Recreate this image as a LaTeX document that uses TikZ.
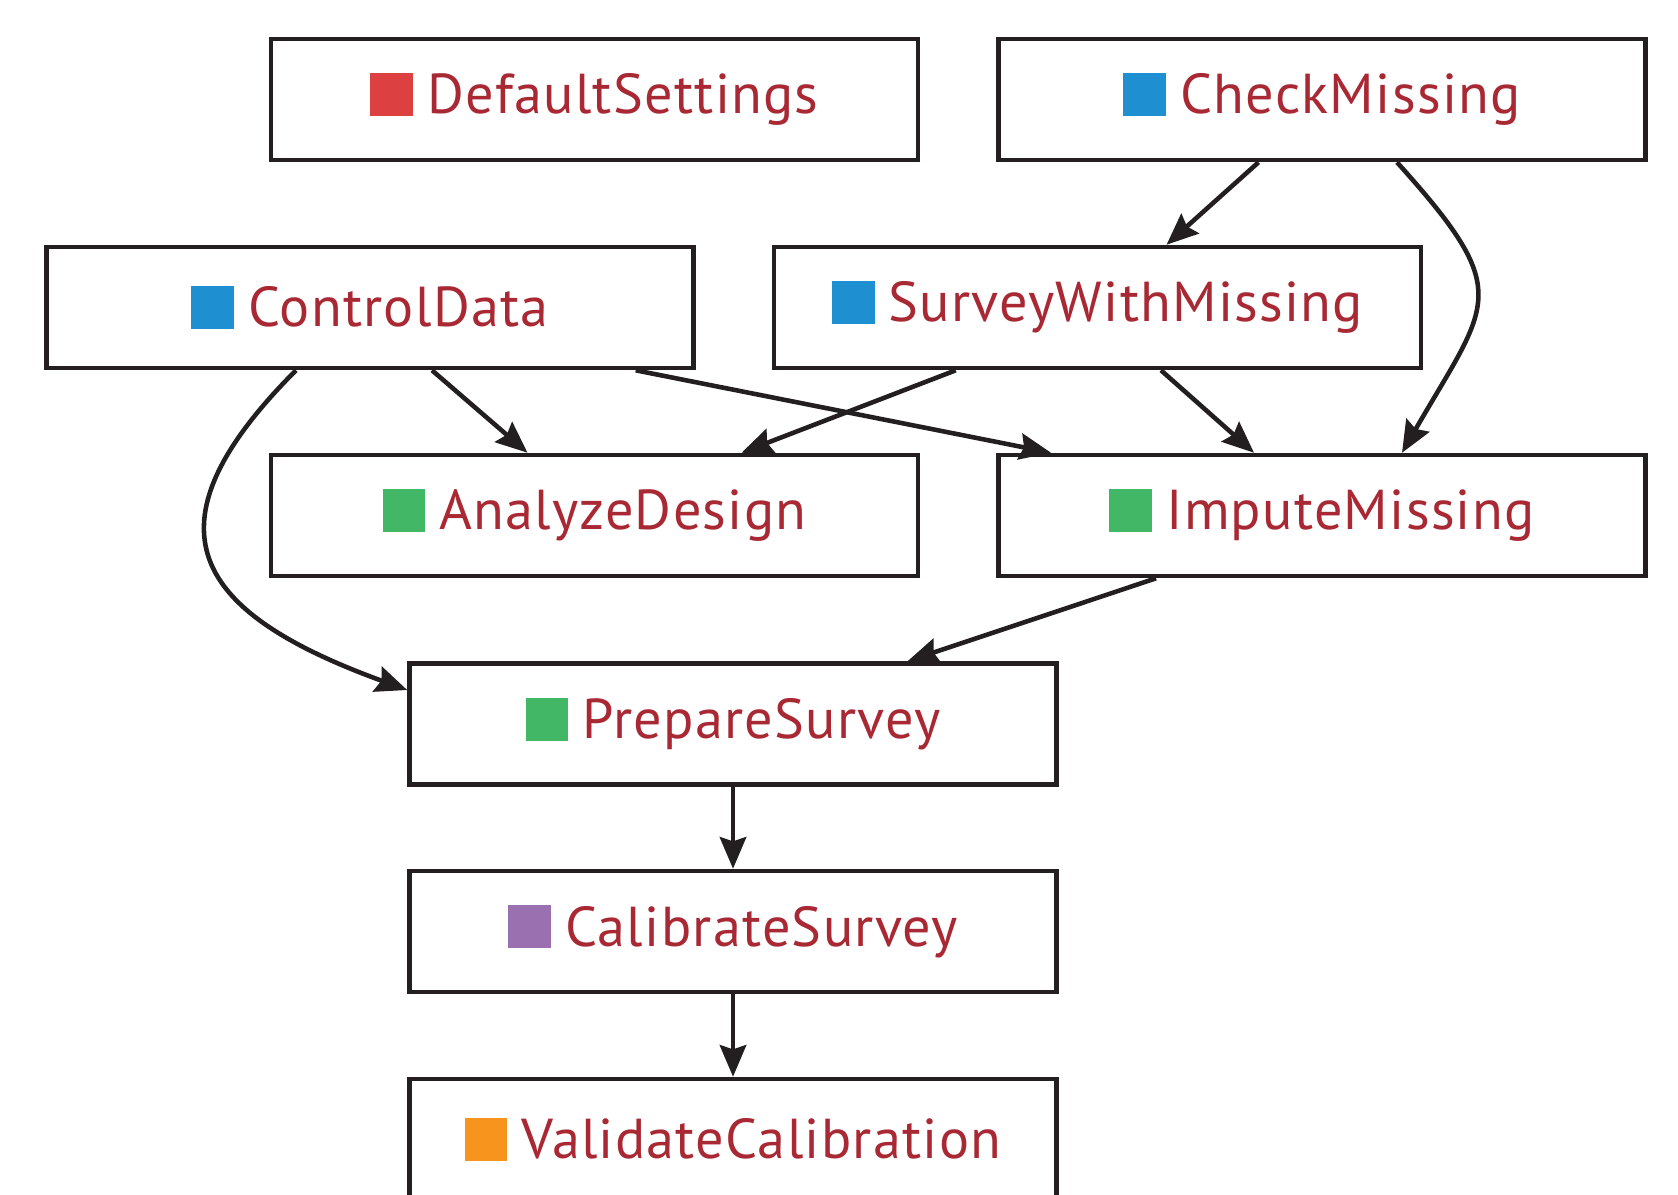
\documentclass[tikz,border=0pt]{standalone}
\usepackage{fontspec}
\setmainfont{PT Sans}[LetterSpace=2.3]
\usetikzlibrary{calc}
\usetikzlibrary{arrows.meta}

\definecolor{inkline}{RGB}{35,31,32}
\definecolor{labelred}{RGB}{168,41,51}
\definecolor{sqred}{RGB}{220,64,64}
\definecolor{sqblue}{RGB}{30,144,210}
\definecolor{sqgreen}{RGB}{66,184,102}
\definecolor{sqpurple}{RGB}{155,112,176}
\definecolor{sqorange}{RGB}{247,148,29}

\newcommand{\tasksq}[1]{{\color{#1}\rule[-0.6pt]{12.2pt}{12.2pt}}\hspace{4pt}}

\tikzset{
	task/.style={draw=inkline, line width=1.3pt, minimum width=6.47cm, minimum height=1.21cm, inner sep=0pt, text=labelred, font=\fontsize{16}{19}\selectfont},
	flow/.style={draw=inkline, line width=1.3pt, -{Stealth[length=9pt,width=7.5pt,inset=1.2pt]}},
}

\begin{document}
\begin{tikzpicture}
		\useasboundingbox (0,0) rectangle (16.78,-11.94);

		\node[task] (defaults) at (5.945,-0.995) {\tasksq{sqred}DefaultSettings};
		\node[task] (checkmiss) at (13.22,-0.995) {\tasksq{sqblue}CheckMissing};
		\node[task] (control) at (3.70,-3.075) {\tasksq{sqblue}ControlData};
		\node[task] (survmiss) at (10.975,-3.075) {\tasksq{sqblue}SurveyWithMissing};
		\node[task] (analyze) at (5.945,-5.155) {\tasksq{sqgreen}AnalyzeDesign};
		\node[task] (impute) at (13.22,-5.155) {\tasksq{sqgreen}ImputeMissing};
		\node[task] (prepare) at (7.33,-7.24) {\tasksq{sqgreen}PrepareSurvey};
		\node[task] (calib) at (7.33,-9.315) {\tasksq{sqpurple}CalibrateSurvey};
		\node[task] (validate) at (7.33,-11.395) {\tasksq{sqorange}ValidateCalibration};

		\draw[flow] ([xshift=-0.635cm]checkmiss.south) -- ([xshift=0.69cm]survmiss.north);
		\draw[flow] ([xshift=0.75cm]checkmiss.south) to[out=-48,in=60,looseness=1.55] ([xshift=0.80cm]impute.north);
		\draw[flow] ([xshift=0.62cm]control.south) -- ([xshift=-0.67cm]analyze.north);
		\draw[flow] ([xshift=2.657cm]control.south) -- ([xshift=-2.71cm]impute.north);
		\draw[flow] ([xshift=-0.74cm]control.south) to[out=-135,in=160,looseness=1.7] ([yshift=0.34cm]prepare.west);
		\draw[flow] ([xshift=-1.418cm]survmiss.south) -- ([xshift=1.47cm]analyze.north);
		\draw[flow] ([xshift=0.635cm]survmiss.south) -- ([xshift=-0.68cm]impute.north);
		\draw[flow] ([xshift=-1.66cm]impute.south) -- ([xshift=1.745cm]prepare.north);
		\draw[flow] (prepare) -- (calib);
		\draw[flow] (calib) -- (validate);
\end{tikzpicture}
\end{document}
